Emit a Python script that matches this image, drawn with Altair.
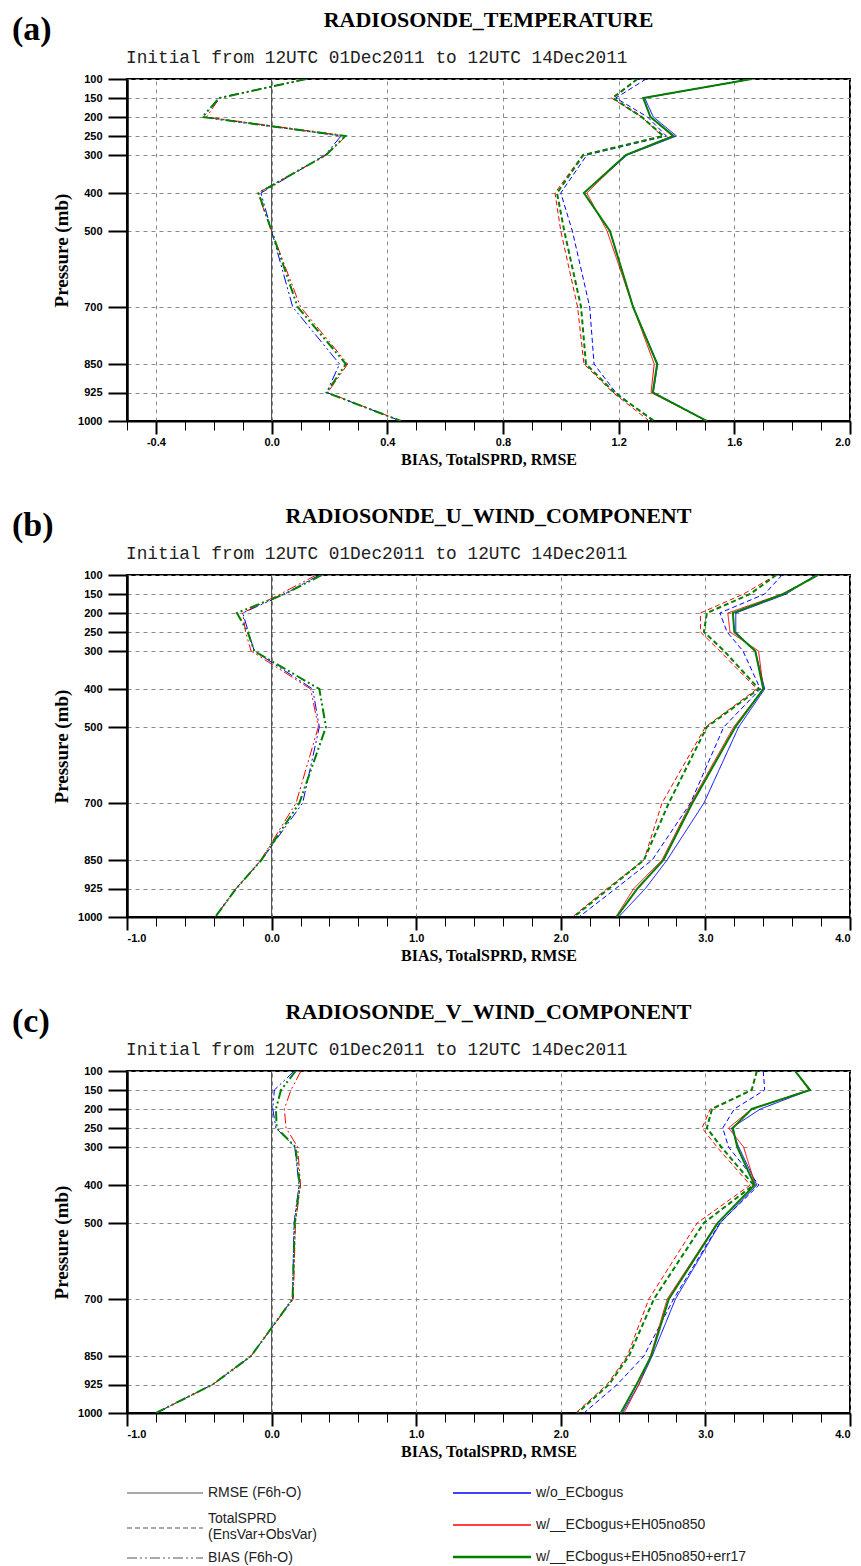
import altair as alt
import pandas as pd

levels = [100, 150, 200, 250, 300, 400, 500, 700, 850, 925, 1000]
experiments = ["w/o_ECbogus", "w/__ECbogus+EH05no850", "w/__ECbogus+EH05no850+err17"]
metrics = ["RMSE", "TotalSPRD", "BIAS"]
metric_labels = ["RMSE (F6h-O)", "TotalSPRD\n(EnsVar+ObsVar)", "BIAS (F6h-O)"]
letters = ["(a)", "(b)", "(c)"]
titles = ["RADIOSONDE_TEMPERATURE", "RADIOSONDE_U_WIND_COMPONENT", "RADIOSONDE_V_WIND_COMPONENT"]
subtitle = "Initial from 12UTC 01Dec2011 to 12UTC 14Dec2011"
x_title = "BIAS, TotalSPRD, RMSE"
y_title = "Pressure (mb)"

# ---- (a) temperature ----
ta_rmse_b = [1.66, 1.29, 1.32, 1.40, 1.23, 1.08, 1.17, 1.25, 1.335, 1.32, 1.505]
ta_rmse_r = [1.66, 1.285, 1.31, 1.385, 1.225, 1.09, 1.16, 1.25, 1.323, 1.312, 1.505]
ta_rmse_g = [1.66, 1.285, 1.31, 1.39, 1.225, 1.08, 1.17, 1.25, 1.333, 1.318, 1.505]
ta_sprd_b = [1.295, 1.19, 1.30, 1.365, 1.09, 1.00, 1.04, 1.10, 1.115, 1.19, 1.318]
ta_sprd_r = [1.265, 1.175, 1.28, 1.35, 1.075, 0.98, 1.00, 1.058, 1.08, 1.18, 1.306]
ta_sprd_g = [1.265, 1.18, 1.28, 1.355, 1.078, 0.987, 1.012, 1.07, 1.087, 1.185, 1.323]
ta_bias_b = [0.12, -0.185, -0.235, 0.24, 0.185, -0.037, 0.0, 0.073, 0.235, 0.19, 0.447]
ta_bias_r = [0.12, -0.18, -0.225, 0.257, 0.19, -0.048, 0.0, 0.10, 0.263, 0.194, 0.447]
ta_bias_g = [0.12, -0.18, -0.24, 0.255, 0.188, -0.045, 0.0, 0.09, 0.257, 0.19, 0.447]

# ---- (b) u wind ----
ub_rmse_b = [3.76, 3.56, 3.21, 3.21, 3.345, 3.41, 3.23, 2.99, 2.735, 2.585, 2.40]
ub_rmse_r = [3.78, 3.53, 3.155, 3.17, 3.368, 3.40, 3.195, 2.90, 2.70, 2.505, 2.38]
ub_rmse_g = [3.78, 3.54, 3.19, 3.20, 3.345, 3.40, 3.207, 2.91, 2.71, 2.53, 2.386]
ub_sprd_b = [3.53, 3.41, 3.10, 3.15, 3.26, 3.38, 3.127, 2.897, 2.632, 2.38, 2.126]
ub_sprd_r = [3.49, 3.264, 2.966, 2.966, 3.10, 3.356, 3.00, 2.70, 2.575, 2.32, 2.08]
ub_sprd_g = [3.49, 3.31, 3.01, 2.99, 3.13, 3.37, 3.01, 2.747, 2.575, 2.333, 2.09]
ub_bias_b = [0.33, 0.09, -0.20, -0.16, -0.12, 0.284, 0.33, 0.215, -0.07, -0.245, -0.39]
ub_bias_r = [0.31, 0.06, -0.20, -0.18, -0.142, 0.27, 0.323, 0.169, -0.075, -0.245, -0.39]
ub_bias_g = [0.346, 0.09, -0.24, -0.165, -0.12, 0.33, 0.376, 0.192, -0.07, -0.245, -0.39]

# ---- (c) v wind ----
vc_rmse_b = [3.62, 3.724, 3.38, 3.18, 3.23, 3.356, 3.103, 2.793, 2.632, 2.54, 2.425]
vc_rmse_r = [3.62, 3.715, 3.32, 3.16, 3.264, 3.345, 3.08, 2.736, 2.62, 2.54, 2.437]
vc_rmse_g = [3.62, 3.724, 3.32, 3.19, 3.22, 3.34, 3.085, 2.747, 2.625, 2.524, 2.414]
vc_sprd_b = [3.40, 3.41, 3.20, 3.12, 3.16, 3.37, 3.10, 2.78, 2.575, 2.39, 2.16]
vc_sprd_r = [3.356, 3.32, 3.034, 2.977, 3.08, 3.31, 2.943, 2.609, 2.46, 2.32, 2.103]
vc_sprd_g = [3.356, 3.32, 3.046, 3.01, 3.11, 3.333, 2.989, 2.644, 2.471, 2.333, 2.115]
vc_bias_b = [0.157, 0.019, 0.008, 0.03, 0.16, 0.19, 0.155, 0.145, -0.142, -0.407, -0.80]
vc_bias_r = [0.203, 0.134, 0.088, 0.10, 0.18, 0.20, 0.165, 0.15, -0.142, -0.407, -0.80]
vc_bias_g = [0.167, 0.065, 0.03, 0.035, 0.165, 0.195, 0.16, 0.145, -0.142, -0.407, -0.80]

x_domains = [[-0.5, 2.0], [-1.0, 4.0], [-1.0, 4.0]]
x_major = [[-0.4, 0.0, 0.4, 0.8, 1.2, 1.6, 2.0],
           [-1.0, 0.0, 1.0, 2.0, 3.0, 4.0],
           [-1.0, 0.0, 1.0, 2.0, 3.0, 4.0]]
x_minor_step = [0.1, 0.2, 0.2]

series = [
    [[ta_rmse_b, ta_sprd_b, ta_bias_b], [ta_rmse_r, ta_sprd_r, ta_bias_r], [ta_rmse_g, ta_sprd_g, ta_bias_g]],
    [[ub_rmse_b, ub_sprd_b, ub_bias_b], [ub_rmse_r, ub_sprd_r, ub_bias_r], [ub_rmse_g, ub_sprd_g, ub_bias_g]],
    [[vc_rmse_b, vc_sprd_b, vc_bias_b], [vc_rmse_r, vc_sprd_r, vc_bias_r], [vc_rmse_g, vc_sprd_g, vc_bias_g]],
]

# ---- styles ----
SERIF = "Liberation Serif"
SANS = "Liberation Sans"
MONO = "Liberation Mono"
W, H = 723, 342
exp_colors = ["#0000ff", "#ff0000", "#008000"]
exp_widths = [1.0, 1.0, 2.0]
metric_dash = [[1, 0], [5, 3], [10, 3, 2, 3, 2, 3]]
GRID = "#8a8a8a"


def text_layer(txt, x, y, font, size, weight="normal", align="left", baseline="middle", color="black"):
    return alt.Chart(pd.DataFrame({"t": [txt]})).mark_text(
        font=font, fontSize=size, fontWeight=weight, align=align, baseline=baseline,
        color=color, lineBreak="\n", lineHeight=16
    ).encode(text="t:N", x=alt.value(x), y=alt.value(y))


def make_panel(i, with_legend=False):
    rows = []
    for e, exp in enumerate(experiments):
        for m, met in enumerate(metrics):
            for lev, val in zip(levels, series[i][e][m]):
                rows.append({"exp": exp, "metric": met, "level": lev, "value": val})
    df = pd.DataFrame(rows)

    lo, hi = x_domains[i]
    step = x_minor_step[i]
    n = int(round((hi - lo) / step))
    minor = [round(lo + k * step, 2) for k in range(n + 1)]
    xscale = alt.Scale(domain=x_domains[i], nice=False, zero=False)

    xenc = alt.X(
        "value:Q", scale=xscale,
        axis=alt.Axis(
            values=x_major[i], orient="bottom",
            labelExpr="replace(format(datum.value, '.1f'), '\u2212', '-')",
            tickSize=13, tickWidth=2, tickColor="black",
            domainColor="black", domainWidth=2,
            labelFont=SANS, labelFontWeight="bold", labelFontSize=11, labelPadding=2,
            labelColor="black", labelOverlap=False,
            grid=True, gridDash=[4, 4], gridColor=GRID, gridWidth=1,
            title=x_title, titleFont=SERIF, titleFontSize=16, titleFontWeight="bold",
            titlePadding=4, titleColor="black",
        ),
    )
    yenc = alt.Y(
        "level:Q", scale=alt.Scale(domain=[100, 1000], reverse=True, nice=False, zero=False),
        axis=alt.Axis(
            values=levels, format="d", tickSize=19, tickWidth=2, tickColor="black",
            domainColor="black", domainWidth=2.5,
            labelFont=SANS, labelFontWeight="bold", labelFontSize=11, labelPadding=6,
            labelColor="black", labelOverlap=False,
            grid=True, gridDash=[4, 4], gridColor=GRID, gridWidth=1,
            title=y_title, titleFont=SERIF, titleFontSize=19, titleFontWeight="bold",
            titlePadding=6, titleColor="black",
        ),
    )

    line_layers = []
    for e, exp in enumerate(experiments):
        line_layers.append(
            alt.Chart(df[df["exp"] == exp]).mark_line(
                color=exp_colors[e], strokeWidth=exp_widths[e], clip=True
            ).encode(
                x=xenc, y=yenc,
                strokeDash=alt.StrokeDash("metric:N", scale=alt.Scale(domain=metrics, range=metric_dash), legend=None),
                order=alt.Order("level:Q"),
            )
        )
    lines = alt.layer(*line_layers)

    zero = alt.Chart(pd.DataFrame({"value": [0.0]})).mark_rule(color="#444444", strokeWidth=1).encode(
        x=alt.X("value:Q", scale=xscale,
                axis=alt.Axis(values=minor, orient="bottom", labels=False, tickSize=9, tickWidth=1,
                              tickColor="black", domain=False, grid=False, title=None))
    )

    texts = [
        text_layer(letters[i], -115, -66, SERIF, 34, "bold", "left", "top"),
        text_layer(titles[i], W / 2, -59, SERIF, 22, "bold", "center", "middle"),
        text_layer(subtitle, -1, -21, MONO, 17.8, "normal", "left", "middle", "#222222"),
    ]

    legend = []
    if with_legend:
        left_y = [422, 457, 487]
        left_text_y = [422, 448, 487]
        for m in range(3):
            legend.append(
                alt.Chart(pd.DataFrame({"t": [metric_labels[m]]})).mark_rule(
                    color="#555555", strokeWidth=1.2, strokeDash=metric_dash[m]
                ).encode(x=alt.value(0), x2=alt.value(76), y=alt.value(left_y[m]))
            )
            legend.append(text_layer(metric_labels[m], 81, left_text_y[m], SANS, 14, "normal", "left", "middle", "#222222"))
        right_y = [422, 454, 486]
        for e in range(3):
            legend.append(
                alt.Chart(pd.DataFrame({"t": [experiments[e]]})).mark_rule(
                    color=exp_colors[e], strokeWidth=exp_widths[e] + 0.3
                ).encode(x=alt.value(326), x2=alt.value(404), y=alt.value(right_y[e]))
            )
            legend.append(text_layer(experiments[e], 409, right_y[e], SANS, 14, "normal", "left", "middle", "#222222"))

    return alt.layer(zero, lines, *texts, *legend).resolve_axis(x="independent").properties(width=W, height=H)


panels = [make_panel(0), make_panel(1), make_panel(2, with_legend=True)]

chart = alt.vconcat(*panels, spacing=154, bounds="flush").properties(
    padding={"left": 3, "top": 0, "right": 0, "bottom": 0}, background="white"
).configure_view(stroke="black", strokeWidth=2)

chart.save("out.html", embed_options={"renderer": "svg", "actions": False})
